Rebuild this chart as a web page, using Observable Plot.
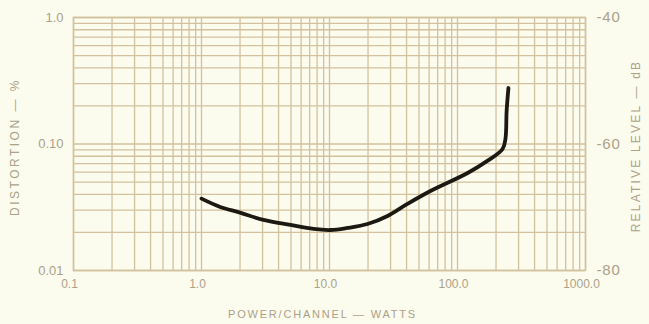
<!DOCTYPE html>
<html>
<head>
<meta charset="utf-8">
<script src="https://cdn.jsdelivr.net/npm/d3@7"></script>
<script src="https://cdn.jsdelivr.net/npm/@observablehq/plot@0.6"></script>
<style>
  html, body { margin: 0; padding: 0; background: #fbfbee; }
  #chart { width: 649px; height: 324px; }
</style>
</head>
<body>
<div id="chart"></div>
<script>
// Distortion curve: power per channel (W) vs distortion (%)
const powerW = [1.0, 1.4, 2.0, 3.05, 4.95, 7.5, 10.2, 13.8, 19.8, 28.4, 40.6, 61.5, 120, 171, 225, 237, 242, 250];
const distortionPct = [0.037, 0.0318, 0.0287, 0.0251, 0.0229, 0.0213, 0.0209, 0.0217, 0.0233, 0.027, 0.0336, 0.0425, 0.059, 0.0735, 0.0913, 0.110, 0.182, 0.277];

// Axis ticks
const xTicks = [0.1, 1, 10, 100, 1000];
const xTickLabels = ["0.1", "1.0", "10.0", "100.0", "1000.0"];
const yTicks = [0.01, 0.1, 1];
const yTickLabels = ["0.01", "0.10", "1.0"];
const dbTicks = [0.01, 0.1, 1];
const dbTickLabels = ["-80", "-60", "-40"];
const mantissas = [1, 2, 3, 4, 5, 6, 7, 8, 9];

const xTitle = "POWER/CHANNEL — WATTS";
const yTitle = "DISTORTION — %";
const y2Title = "RELATIVE LEVEL — dB";

const xGrid = [];
for (const d of [0.1, 1, 10, 100]) for (const m of mantissas) xGrid.push(+(d * m).toPrecision(3));
xGrid.push(1000);
const yGrid = [];
for (const d of [0.01, 0.1]) for (const m of mantissas) yGrid.push(+(d * m).toPrecision(3));
yGrid.push(1);

const data = powerW.map((p, i) => ({p, d: distortionPct[i]}));

const gridColor = "#d3c19e";
const textColor = "#aba28a";

const chart = Plot.plot({
  width: 649,
  height: 324,
  marginLeft: 73,
  marginRight: 64,
  marginTop: 17,
  marginBottom: 54,
  style: {background: "#fbfbee", fontFamily: "Liberation Sans, Arial, sans-serif", fontSize: "12px", color: textColor},
  x: {type: "log", domain: [0.1, 1000]},
  y: {type: "log", domain: [0.01, 1]},
  marks: [
    Plot.ruleX(xGrid, {stroke: gridColor, strokeWidth: 1.3}),
    Plot.ruleY(yGrid, {stroke: gridColor, strokeWidth: 1.3}),
    Plot.frame({stroke: gridColor, strokeWidth: 1.5}),
    Plot.axisX({ticks: xTicks, tickSize: 0, tickPadding: 9, tickFormat: d => xTickLabels[xTicks.indexOf(d)], label: null, fill: textColor, fontSize: 12, dx: -4}),
    Plot.axisY({ticks: yTicks, tickSize: 0, tickPadding: 10, tickFormat: d => yTickLabels[yTicks.indexOf(d)], label: null, fill: textColor, fontSize: 13}),
    Plot.axisY({anchor: "right", ticks: dbTicks, tickSize: 0, tickPadding: 11, tickFormat: d => dbTickLabels[dbTicks.indexOf(d)], label: null, fill: textColor, fontSize: 15}),
    Plot.text([yTitle], {frameAnchor: "left", textAnchor: "middle", dx: -58, dy: 3, rotate: -90, fill: textColor, fontSize: 12}),
    Plot.text([y2Title], {frameAnchor: "right", textAnchor: "middle", dx: 51, dy: 2, rotate: -90, fill: textColor, fontSize: 12}),
    Plot.text([xTitle], {frameAnchor: "bottom", textAnchor: "middle", dx: -7, dy: 47, fill: textColor, fontSize: 11}),
    Plot.line(data, {x: "p", y: "d", stroke: "#1c1812", strokeWidth: 3.8, curve: "catmull-rom", strokeLinejoin: "round", strokeLinecap: "round"})
  ]
});
const spacing = {[xTitle]: "1.8px", [yTitle]: "2.5px", [y2Title]: "2.2px"};
for (const t of chart.querySelectorAll("text")) {
  const s = spacing[t.textContent];
  if (s) t.style.letterSpacing = s;
  if (dbTickLabels.includes(t.textContent)) t.style.letterSpacing = "0.8px";
}
document.getElementById("chart").appendChild(chart);
</script>
</body>
</html>
